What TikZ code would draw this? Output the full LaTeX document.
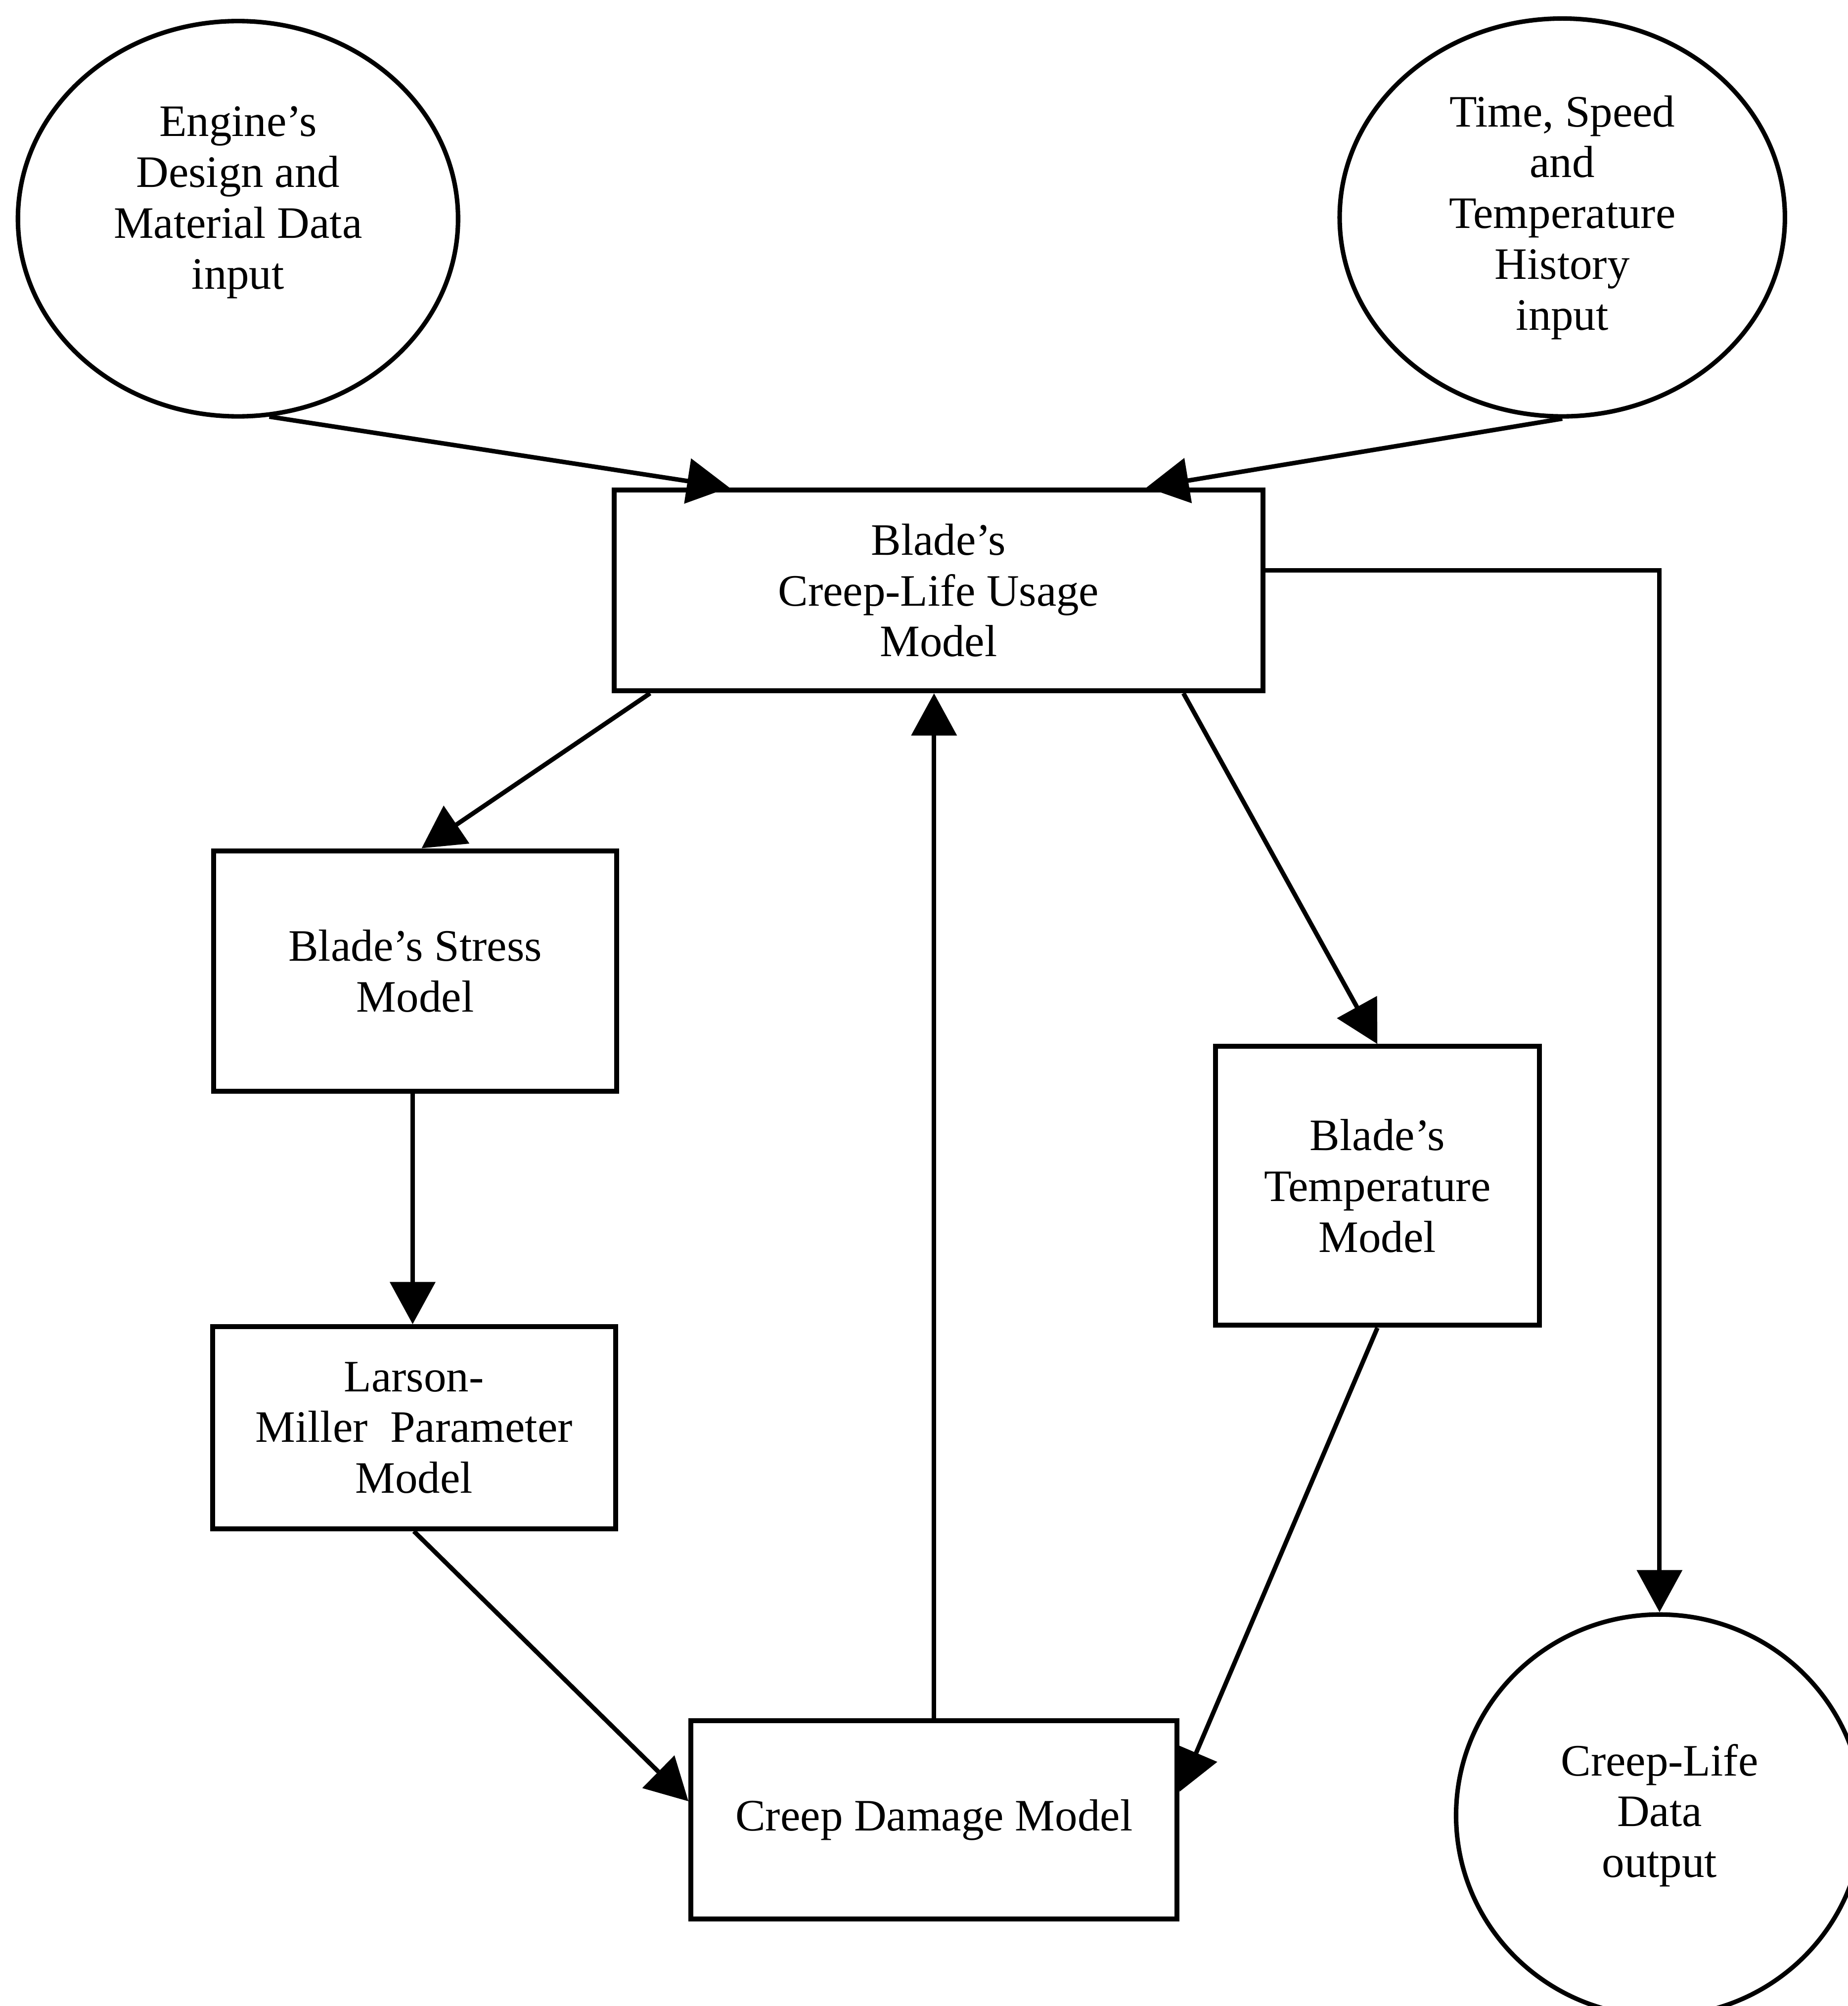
\documentclass[tikz,border=0pt]{standalone}
\usepackage{fontspec}
\setmainfont{Liberation Serif}
\usetikzlibrary{arrows.meta,shapes.geometric}

\begin{document}
\begin{tikzpicture}[font=\fontsize{10}{11.3}\selectfont, x=1cm, y=1cm,
    modelbox/.style={draw, line width=1.1pt, align=center, inner sep=0pt},
    datacirc/.style={draw, ellipse, line width=1pt, align=center, inner sep=0pt},
    flow/.style={-{Triangle[length=3.3mm, width=3.5mm]}, line width=1pt}]
    \useasboundingbox (0,0) rectangle (14.44,15.68);

    \node[datacirc, minimum width=3.44cm, minimum height=3.09cm, text depth=0.33cm] (eng) at (1.86,13.97) {Engine's\\Design and\\Material Data\\input};
    \node[datacirc, minimum width=3.48cm, minimum height=3.11cm] (hist) at (12.21,13.98) {Time, Speed\\and\\Temperature\\History\\input};
    \node[datacirc, minimum width=3.18cm, minimum height=3.14cm] (out) at (12.97,1.49) {Creep-Life\\Data\\output};

    \node[modelbox, minimum width=5.07cm, minimum height=1.57cm] (usage) at (7.335,11.065) {Blade's\\Creep-Life Usage\\Model};
    \node[modelbox, minimum width=3.15cm, minimum height=1.88cm] (stress) at (3.245,8.09) {Blade's Stress\\Model};
    \node[modelbox, minimum width=3.15cm, minimum height=1.58cm] (lmp) at (3.235,4.52) {Larson-\\Miller\ \ Parameter\\Model};
    \node[modelbox, minimum width=2.53cm, minimum height=2.18cm] (temp) at (10.765,6.41) {Blade's\\Temperature\\Model};
    \node[modelbox, minimum width=3.80cm, minimum height=1.55cm] (dmg) at (7.30,1.455) {Creep Damage Model};

    \draw[flow] (eng.279) -- ([xshift=-1.635cm]usage.north);
    \draw[flow] (hist.south) -- ([xshift=1.625cm]usage.north);
    \draw[flow] ([xshift=0.3cm]usage.south west) -- ([xshift=0.05cm]stress.north);
    \draw[flow] ([xshift=-0.64cm]usage.south east) -- (temp.north);
    \draw[flow] ([xshift=-0.02cm]stress.south) -- ([xshift=-0.02cm]stress.south |- lmp.north);
    \draw[flow] (lmp.south) -- ([yshift=0.145cm]dmg.west);
    \draw[flow] (temp.south) -- ([yshift=0.22cm]dmg.east);
    \draw[flow] (dmg.north) -- (dmg.north |- usage.south);
    \draw[flow] ([yshift=0.155cm]usage.east) -| (out.north);
\end{tikzpicture}
\end{document}
